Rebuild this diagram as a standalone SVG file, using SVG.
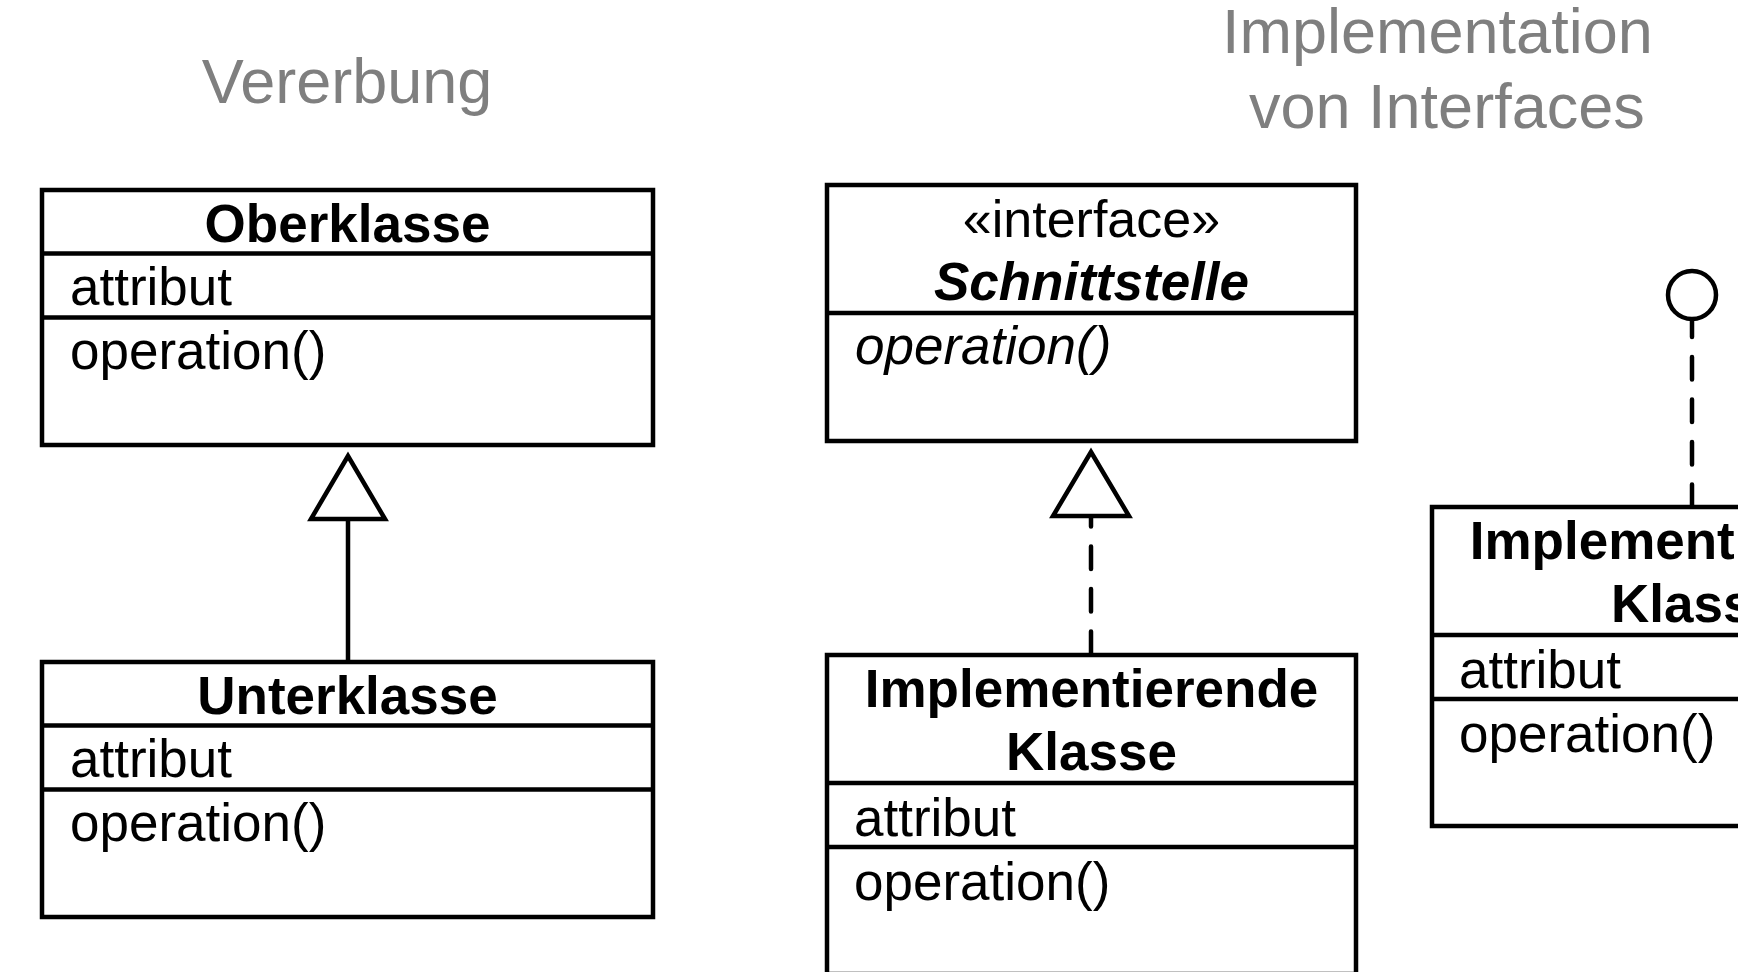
<svg xmlns="http://www.w3.org/2000/svg" width="1738" height="972" viewBox="0 0 1738 972">
<style>
text{font-family:"Liberation Sans",Arial,Helvetica,sans-serif;fill:#000}
.title{font-size:63px;fill:#7f7f7f}
.name{font-size:53px;font-weight:bold;text-anchor:middle}
.abs{font-style:italic}
.mem{font-size:53px}
.st{font-size:52px;text-anchor:middle}
.box{fill:#fff;stroke:#000;stroke-width:4.5;stroke-linejoin:miter}
.div{stroke:#000;stroke-width:4.5;fill:none}
.solid{stroke:#000;stroke-width:4.5;fill:none}
.dash{stroke:#000;stroke-width:4.5;fill:none;stroke-dasharray:22.5 20;stroke-linecap:round}
.tri{fill:#fff;stroke:#000;stroke-width:4.5;stroke-linejoin:miter}
</style>
<rect width="1738" height="972" fill="#fff"/>
<g id="titles">
<text class="title" x="347" y="103" text-anchor="middle">Vererbung</text>
<text class="title" x="1222" y="53">Implementation</text>
<text class="title" x="1249" y="128">von Interfaces</text>
</g>
<g id="connectors">
<line class="solid" x1="348" y1="519" x2="348" y2="662"/>
<polygon class="tri" points="348,456 311,519 385,519"/>
<path class="dash" d="M1091 654 V516"/>
<polygon class="tri" points="1091,452 1053,516 1129,516"/>
<path class="dash" d="M1692 507 V320"/>
<circle cx="1692" cy="295" r="24" fill="#fff" stroke="#000" stroke-width="4.5"/>
</g>
<g id="oberklasse">
<rect class="box" x="42" y="190" width="611" height="255"/>
<line class="div" x1="42" y1="253.5" x2="653" y2="253.5"/>
<line class="div" x1="42" y1="317.5" x2="653" y2="317.5"/>
<text class="name" x="347.5" y="242">Oberklasse</text>
<text class="mem" x="70" y="305">attribut</text>
<text class="mem" x="70" y="369">operation()</text>
</g>
<g id="unterklasse">
<rect class="box" x="42" y="662" width="611" height="255"/>
<line class="div" x1="42" y1="725.5" x2="653" y2="725.5"/>
<line class="div" x1="42" y1="789.5" x2="653" y2="789.5"/>
<text class="name" x="347.5" y="714">Unterklasse</text>
<text class="mem" x="70" y="777">attribut</text>
<text class="mem" x="70" y="841">operation()</text>
</g>
<g id="schnittstelle">
<rect class="box" x="827" y="185" width="529" height="256"/>
<line class="div" x1="827" y1="313" x2="1356" y2="313"/>
<text class="st" x="1091.5" y="237">«interface»</text>
<text class="name abs" x="1091.5" y="300">Schnittstelle</text>
<text class="mem abs" x="855" y="364">operation()</text>
</g>
<g id="implementierende-klasse">
<rect class="box" x="827" y="655" width="529" height="319"/>
<line class="div" x1="827" y1="783" x2="1356" y2="783"/>
<line class="div" x1="827" y1="847" x2="1356" y2="847"/>
<text class="name" x="1091.5" y="707">Implementierende</text>
<text class="name" x="1091.5" y="770">Klasse</text>
<text class="mem" x="854" y="836">attribut</text>
<text class="mem" x="854" y="900">operation()</text>
</g>
<g id="implementierende-klasse-2">
<rect class="box" x="1432" y="507" width="529" height="319"/>
<line class="div" x1="1432" y1="635" x2="1961" y2="635"/>
<line class="div" x1="1432" y1="699" x2="1961" y2="699"/>
<text class="name" x="1696.5" y="559">Implementierende</text>
<text class="name" x="1696.5" y="622">Klasse</text>
<text class="mem" x="1459" y="688">attribut</text>
<text class="mem" x="1459" y="752">operation()</text>
</g>
</svg>
